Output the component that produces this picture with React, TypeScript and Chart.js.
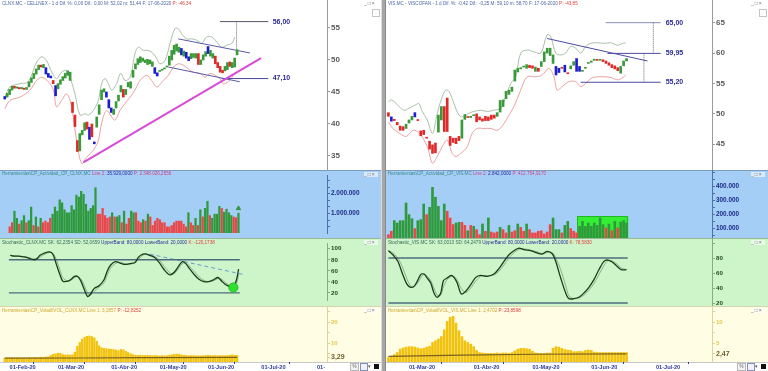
import React, { useEffect, useRef } from "react";
import { Chart, registerables } from "chart.js";

Chart.register(...registerables);
const FONT = "'Liberation Sans', Arial, Helvetica, sans-serif";
Chart.defaults.font.family = FONT;

// ======================= CLNX.MC (left) =======================
// trading-day index 0 = 30-Jan-2020 ... 96 = 17-Jun-2020
const clnxOpen = [
  44.3, 44.2, 44.6, 45.3, 45.9, 45.6, 45.7, 45.5, 45.6, 45.4,
  45.8, 46.5, 47.1, 47.8, 48.5, 49.2, 48.8, 48.8, 47.9, 47.5,
  46.8, 46.0, 45.5, 46.2, 46.8, 47.2, 47.6, 46.8, 43.4, 41.4,
  37.4, 35.8, 38.3, 39.0, 40.3, 39.5, 40.0, 37.2, 39.5, 41.5,
  43.8, 45.0, 45.0, 43.8, 42.5, 41.5, 42.5, 43.6, 45.0, 45.4,
  44.6, 45.8, 45.6, 47.3, 48.6, 49.3, 49.6, 49.8, 49.6, 49.3,
  49.4, 49.0, 48.8, 48.0, 48.2, 48.4, 48.6, 48.9, 49.2, 50.0,
  50.9, 51.4, 51.2, 51.8, 50.6, 51.2, 50.5, 50.2, 50.4, 50.3,
  51.0, 49.3, 50.0, 50.6, 52.1, 50.6, 50.3, 50.6, 49.6, 49.0,
  48.4, 48.3, 48.5, 49.7, 48.8, 48.9, 50.8,
];
const clnxClose = [
  43.9, 44.8, 45.4, 45.9, 45.6, 45.8, 45.5, 45.7, 45.4, 45.7,
  46.6, 47.2, 47.9, 48.6, 49.2, 48.9, 49.3, 47.8, 47.3, 47.2,
  46.3, 44.4, 46.3, 46.9, 47.4, 47.9, 48.3, 48.1, 41.8, 39.6,
  35.7, 38.5, 39.0, 40.2, 39.2, 37.6, 38.0, 36.9, 41.1, 43.0,
  45.3, 45.5, 44.2, 42.5, 41.8, 42.3, 43.5, 44.5, 46.0, 44.2,
  45.4, 46.5, 46.6, 48.4, 49.4, 50.2, 50.5, 50.3, 50.0, 50.1,
  50.0, 49.7, 47.9, 47.5, 48.3, 48.5, 48.7, 49.0, 50.6, 51.5,
  52.3, 52.5, 52.0, 50.8, 51.4, 50.3, 49.9, 51.0, 51.0, 51.0,
  49.3, 50.0, 50.8, 51.3, 51.0, 51.5, 51.0, 49.4, 48.8, 48.1,
  48.0, 49.0, 49.6, 49.0, 49.6, 50.3, 51.6,
];
const clnxBlueDays = [0, 17, 18, 19, 21, 35, 37, 42, 43, 44, 62, 63, 73, 75, 76, 84];
const clnxUpperDays = [0, 2.2, 6.3, 9.7, 13.2, 15.3, 17.3, 19.4, 21.4, 23.5, 25.6, 27, 29, 31.1, 33.2, 34.5, 36.6, 38.7, 40, 41.4, 42.8, 44.2, 46.2, 47.9, 49.7, 51.8, 53.8, 55.2, 57.3, 59.3, 61.4, 62.8, 64.1, 66.2, 68.3, 70.3, 71.7, 73.1, 75.2, 77.2, 79.3, 81.4, 83.4, 85.5, 87.6, 89.6, 91.7, 93.8, 95.1];
const clnxUpperBand = [44.2, 45.8, 46.3, 46.6, 49.7, 50.5, 49.9, 48.1, 47.1, 48.1, 48.4, 47.3, 44.7, 41.4, 41.6, 41.4, 42.1, 43.7, 46.3, 47.1, 46.3, 45.3, 46.3, 47.9, 46.8, 47.3, 51.0, 52.0, 51.5, 51.5, 51.0, 50.2, 49.4, 49.9, 52.6, 54.9, 54.9, 54.1, 53.3, 53.3, 53.1, 52.6, 53.6, 53.6, 52.8, 52.0, 52.3, 52.6, 53.6];
const clnxLowerDays = [0, 2.2, 6.3, 10.4, 13.2, 15.3, 18, 20.1, 21.4, 23.5, 25.6, 27.6, 29.7, 31.8, 33.8, 36.6, 38.7, 40, 42.1, 44.2, 45.6, 47.6, 49.7, 51.8, 53.8, 55.9, 58.6, 60.7, 62.8, 65.5, 67.6, 69.7, 71.7, 73.8, 75.9, 77.9, 80.7, 82.7, 84.8, 86.9, 88.9, 90.3, 92.4, 94.5];
const clnxLowerBand = [42.4, 43.7, 44.2, 45.3, 46.8, 47.3, 46.6, 45.3, 42.7, 43.7, 44.7, 42.7, 37.4, 33.8, 34.8, 35.9, 37.4, 40.1, 42.1, 41.1, 40.6, 42.1, 43.2, 44.2, 45.3, 46.8, 47.6, 46.8, 45.8, 46.8, 47.6, 48.9, 49.4, 49.2, 48.6, 48.1, 47.9, 47.3, 47.9, 47.6, 47.1, 46.3, 46.6, 47.6];
const clnxPriceTicks = [35, 40, 45, 50, 55];
const clnxSupportDays = [32.5, 105.9];
const clnxSupport = [34.0, 50.3];
const clnxChannelTopDays = [71.7, 101.3];
const clnxChannelTop = [53.3, 51.1];
const clnxChannelBotDays = [67.6, 97.1];
const clnxChannelBot = [48.9, 46.6];
const clnxTarget = 56.0;
const clnxTargetDays = [88.9, 108.9];
const clnxStop = 47.1;
const clnxStopDays = [89.6, 108.9];
const clnxTargetLabel = "56,00";
const clnxStopLabel = "47,10";

const clnxVolume = [
  330000, 540000, 1120000, 760000, 470000, 640000, 900000, 540000,
  640000, 1330000, 400000, 830000, 330000, 760000, 540000, 620000, 540000, 760000, 970000, 1330000, 1120000, 1690000, 1540000, 1190000, 1040000, 1040000,
  1400000, 1190000, 1930000, 1830000, 2120000, 1970000, 1470000, 1120000, 1260000, 1400000, 2300000, 970000, 970000, 1260000, 900000, 760000, 830000, 1040000, 830000, 830000, 900000, 540000, 1120000, 470000, 760000, 1120000, 1040000, 1040000, 620000,
  540000, 690000, 620000, 970000, 830000, 400000, 620000, 760000, 690000, 540000, 540000, 330000, 330000, 400000, 540000, 620000, 620000, 620000,
  470000, 330000, 1040000, 540000, 400000, 760000, 400000, 1190000, 830000, 1260000, 1620000, 900000, 760000, 970000, 970000, 1360000, 1260000, 1070000, 1220000, 1040000, 900000, 830000, 790000, 1020000,
];
const clnxVolumeUp = [
  0, 0, 1, 1, 0, 1, 1, 0,
  1, 1, 0, 1, 0, 1, 0, 0, 0, 0, 1, 1, 1, 1, 1, 1, 1, 1,
  1, 1, 1, 1, 1, 1, 1, 1, 1, 1, 1, 0, 0, 0, 0, 0, 0, 1, 0, 1, 1, 0, 1, 0, 0, 1, 1, 0, 0,
  0, 1, 0, 1, 0, 0, 0, 0, 0, 0, 0, 0, 0, 0, 0, 0, 0, 0,
  0, 0, 1, 0, 0, 1, 0, 1, 0, 1, 1, 0, 1, 1, 1, 1, 0, 1, 1, 1, 1, 0, 0, 1,
];
const clnxVolumeTicks = [333333, 666667, 1000000, 1333333, 1666667, 2000000, 2333333, 2666667];
const clnxVolumeLabels = ["", "", "1.000.000", "", "", "2.000.000", "", ""];
const clnxVolumeSignal = 1260000;

const clnxStochDays = [0, 1.5, 3.5, 5.6, 7.7, 9.7, 11.1, 12.5, 14.6, 16.6, 18, 19.4, 20.8, 22.1, 24.2, 25.6, 27, 28.3, 29.7, 31.1, 32.5, 33.6, 35.2, 37.3, 39.4, 40.7, 42.1, 44.2, 46.2, 48.3, 50.4, 52.4, 53.8, 55.2, 56.6, 58.6, 60.7, 62.8, 64.8, 66.9, 68.3, 69.7, 71, 72.4, 73.8, 75.2, 77.2, 79.3, 81.4, 83.4, 85.5, 87.3, 88.9, 90.6, 92.4, 93.8, 95.1, 96];
const clnxStochK = [88.2, 86.7, 86.7, 85.2, 83.2, 80.2, 81.7, 88.2, 92.7, 94.2, 89.2, 71.5, 53.9, 41.3, 41.3, 44.8, 49.9, 49.9, 41.3, 26.2, 13.6, 17.1, 27.7, 32.8, 43.9, 59, 70.1, 76.7, 74.1, 71.6, 73.1, 75.1, 84.2, 89.2, 90.8, 88.2, 84.2, 74.1, 61.5, 52.9, 54.9, 61.5, 70.1, 76.7, 73.1, 65, 53.9, 44.8, 40.3, 40.3, 43.9, 47.9, 41.3, 34.8, 31.3, 29.7, 43.9, 63];
const clnxStochTrendDays = [58.6, 98.6];
const clnxStochTrend = [90.3, 52.9];
const clnxStochSignalDay = 93.8;
const clnxStochSignal = 29.7;
const clnxStochLabels = ["20", "40", "60", "80", "100"];

const clnxVolat = [
  3.0, 3.1, 3.0, 3.1, 3.0, 3.1, 3.1, 3.0, 3.1, 3.1,
  3.2, 3.1, 3.2, 3.2, 3.3, 3.4, 3.3, 3.5, 3.6, 4.2,
  4.8, 5.0, 5.3, 5.2, 4.6, 4.4, 4.5, 4.4, 4.6, 5.8,
  8.6, 10.4, 12.0, 12.9, 13.3, 13.5, 13.2, 12.6, 11.0, 8.8,
  7.9, 7.6, 7.4, 7.3, 7.2, 7.0, 6.8, 6.5, 7.1, 6.9,
  6.2, 5.6, 5.0, 4.6, 4.3, 4.2, 4.3, 4.2, 4.2, 4.3,
  4.2, 4.1, 4.2, 4.1, 4.0, 4.1, 4.0, 4.1, 4.3, 4.5,
  4.7, 4.9, 4.7, 4.5, 4.3, 4.2, 4.1, 4.1, 4.2, 4.0,
  4.1, 4.0, 4.1, 4.2, 4.3, 4.2, 4.1, 4.2, 4.1, 4.1,
  4.2, 4.1, 4.2, 4.3, 4.5, 4.3, 4.2,
];
const clnxVolatAvgDays = [0, 30, 60, 96];
const clnxVolatAvg = [2.9, 3.0, 3.15, 3.29];
const clnxVolatTicks = [3.29, 5, 10, 15, 20, 25];
const clnxVolatLabels = ["3,29", "", "10", "", "20", ""];
const clnxDateDays = [2, 22, 44, 64, 84, 106, 129];
const clnxDateLabels = ["01-Feb-20", "01-Mar-20", "01-Abr-20", "01-May-20", "01-Jun-20", "01-Jul-20", "01-"];

// ======================= VIS.MC (right) =======================
// trading-day index 0 = 20-Feb-2020 ... 81 = 17-Jun-2020
const visOpen = [
  50.2, 49.5, 49.1, 48.6, 48.0, 47.9, 47.6, 48.5, 49.0, 50.2,
  49.0, 47.2, 47.3, 46.1, 45.5, 44.9, 45.2, 47.0, 49.0, 51.2,
  52.6, 46.3, 46.0, 46.0, 46.3, 46.0, 49.1, 49.5, 49.4, 49.7,
  50.0, 49.5, 49.2, 49.6, 49.5, 49.8, 49.8, 49.6, 50.3, 51.2,
  52.5, 53.2, 53.7, 55.4, 56.9, 57.4, 57.7, 57.5, 58.0, 57.9,
  57.0, 57.5, 57.8, 58.6, 60.0, 59.6, 58.3, 57.8, 57.5, 57.6,
  58.0, 56.7, 57.4, 58.0, 59.1, 57.8, 57.0, 57.5, 58.3, 58.5,
  58.8, 58.9, 58.8, 58.9, 58.7, 58.4, 58.1, 57.9, 57.6, 56.7,
  57.9, 58.7,
];
const visClose = [
  49.6, 48.8, 48.9, 48.2, 47.3, 47.3, 48.3, 49.0, 49.6, 49.5,
  48.9, 46.4, 46.6, 46.0, 44.2, 43.5, 43.6, 49.8, 51.2, 47.1,
  47.1, 44.8, 45.3, 45.1, 45.6, 49.0, 49.9, 49.4, 49.6, 49.8,
  48.7, 49.0, 48.8, 48.9, 48.9, 49.1, 49.3, 50.2, 52.2, 52.3,
  53.7, 53.9, 54.4, 57.2, 57.5, 57.6, 57.8, 58.1, 57.6, 57.5,
  57.7, 57.0, 58.6, 60.2, 60.8, 60.8, 59.7, 56.4, 56.8, 57.5,
  56.9, 56.6, 57.9, 58.6, 57.0, 57.0, 57.1, 57.6, 58.4, 58.7,
  59.0, 58.8, 58.9, 58.6, 58.3, 58.0, 57.6, 57.4, 57.1, 57.8,
  58.7, 59.1,
];
const visBlueDays = [1, 9, 57, 58, 60, 64, 65];
const visUpperDays = [0, 1.2, 3.6, 5.3, 7, 9.3, 10.4, 11.5, 13.2, 15, 16.6, 18.3, 19.5, 20.6, 22.3, 24, 25.7, 27.4, 29.1, 31.4, 33.6, 35.9, 38.2, 39.9, 41.6, 43.3, 45, 47.2, 49.5, 51.8, 54, 55.2, 56.9, 58.6, 60.3, 62, 63.7, 65.4, 67.1, 68.8, 71.1, 73.3, 75.6, 77.9, 79.6, 80.7];
const visUpperBand = [52.0, 52.3, 51.2, 50.6, 50.9, 51.5, 51.7, 50.4, 49.0, 46.8, 50.1, 52.8, 53.9, 53.7, 51.7, 49.8, 49.5, 50.1, 50.4, 50.6, 50.4, 50.6, 50.9, 52.8, 55.0, 56.1, 60.0, 60.5, 60.2, 60.0, 63.0, 62.7, 60.0, 59.7, 60.0, 61.1, 60.8, 60.0, 61.1, 61.6, 61.7, 61.6, 61.7, 61.3, 61.6, 61.7];
const visLowerDays = [0, 1.5, 3.8, 6.1, 8.4, 10.6, 13.2, 15, 16.6, 18.3, 20, 21.7, 22.9, 24.6, 26.8, 28.5, 30.2, 32.5, 34.8, 37.1, 39.3, 41, 42.7, 45, 47.2, 50.1, 52.3, 54.6, 56.3, 57.4, 59.1, 61.4, 63.7, 65.4, 67.1, 68.8, 71.1, 73.3, 75.6, 77.9, 79.2, 80.7];
const visLowerBand = [48.7, 47.6, 46.8, 46.3, 47.3, 46.8, 44.6, 41.9, 43.0, 44.6, 45.7, 43.5, 43.0, 43.5, 44.6, 46.8, 47.6, 47.6, 47.6, 47.3, 48.4, 49.8, 51.2, 53.9, 56.1, 56.1, 56.4, 57.5, 56.1, 53.9, 54.5, 55.3, 55.3, 54.5, 55.0, 55.8, 56.1, 56.1, 56.0, 55.6, 55.8, 56.4];
const visPriceTicks = [45, 50, 55, 60, 65];
const visTrendDays = [54, 88.1];
const visTrend = [62.4, 58.7];
const visTarget = 65.0;
const visTargetDays = [73.9, 92.6];
const visResistance = 59.95;
const visResistanceDays = [74.5, 92.6];
const visSupport = 55.2;
const visSupportDays = [65.4, 92.6];
const visMeasureDays = [90.1, 86.9];
const visLevelLabels = ["65,00", "59,95", "55,20"];

const visVolume = [
  54000, 78000, 154000, 137000, 154000, 154000, 280000, 197000, 168000, 97000,
  154000, 161000, 273000, 197000, 249000, 392000, 321000, 256000, 154000, 273000,
  221000, 173000, 126000, 137000, 142000, 142000, 120000, 82000, 120000, 113000,
  90000, 54000, 130000, 78000, 173000, 73000, 66000, 73000, 106000, 90000,
  66000, 120000, 73000, 82000, 130000, 106000, 78000, 130000, 90000, 66000,
  66000, 78000, 82000, 59000, 73000, 125000, 173000, 90000, 90000, 66000,
  120000, 149000, 97000, 78000, 66000, 113000, 149000, 113000, 137000, 113000,
  137000, 120000, 173000, 125000, 102000, 130000, 82000, 149000, 102000, 144000,
  154000, 137000,
];
const visVolumeUp = [
  0, 0, 1, 1, 1, 1, 1, 1, 1, 0, 1, 1, 1, 0, 1, 1, 1, 1, 1, 1,
  0, 0, 0, 1, 1, 0, 0, 1, 0, 1, 0, 0, 1, 0, 1, 0, 0, 0, 1, 0,
  0, 1, 0, 0, 1, 0, 0, 1, 0, 0, 0, 0, 0, 0, 0, 0, 1, 1, 1, 0,
  1, 1, 0, 0, 0, 1, 1, 1, 1, 1, 1, 1, 1, 1, 0, 1, 0, 1, 0, 1,
  1, 1,
];
const visVolumeTicks = [50000, 100000, 150000, 200000, 250000, 300000, 350000, 400000, 450000, 500000];
const visVolumeLabels = ["", "100.000", "", "200.000", "", "300.000", "", "400.000", "", ""];
const visHighlightDays = [64.3, 81.6];
const visHighlightTop = 185000;

const visStochDays = [0, 1.5, 3.2, 4.9, 6.4, 7.6, 8.7, 9.8, 11, 12.1, 13.2, 14.4, 15.5, 16.6, 17.8, 18.7, 20, 21.3, 22.3, 23.4, 24.8, 26.3, 28, 29.7, 31.4, 33.6, 35.9, 37.6, 39.3, 41, 42.7, 44.4, 46.1, 48.4, 50.6, 52.3, 54, 55.8, 56.9, 58.6, 60.3, 61.4, 63.1, 64.8, 66.5, 68.2, 69.9, 71.6, 73.3, 74.6, 76.1, 77.8, 79.2, 81];
const visStochK = [89.8, 84.4, 75.6, 57.8, 44.4, 40.9, 42.2, 48.9, 57.8, 58.7, 53.3, 46.7, 33.3, 27.6, 33.3, 49.8, 53.3, 56.9, 54.2, 46.7, 32, 35.6, 44.4, 54.2, 56.9, 55.6, 58.7, 65.8, 75.6, 84.4, 89.8, 93.3, 91.1, 89.8, 86.7, 85.3, 88.9, 85.3, 75.6, 53.3, 33.3, 25.8, 25.8, 27.6, 33.3, 40.9, 51.1, 64.4, 75.6, 77.3, 74.7, 68.9, 64.4, 64.4];
const visStochLabels = ["20", "40", "60", "80", ""];

const visVolat = [
  1.6, 1.9, 2.3, 2.8, 3.6, 3.9, 4.1, 4.2, 4.2, 4.1,
  3.9, 3.7, 3.8, 4.1, 4.3, 5.2, 5.6, 6.0, 6.6, 8.2,
  10.2, 11.2, 11.4, 9.8, 8.0, 6.6, 5.6, 5.2, 4.8, 4.2,
  3.3, 2.8, 2.7, 2.6, 2.6, 2.6, 2.6, 2.7, 2.6, 2.7,
  2.7, 2.6, 2.8, 3.2, 3.6, 3.8, 3.8, 3.7, 3.6, 3.1,
  2.7, 2.6, 2.6, 2.6, 2.7, 2.7, 3.8, 4.2, 4.1, 3.8,
  3.5, 3.4, 3.3, 3.0, 3.0, 3.1, 3.0, 3.3, 3.4, 3.3,
  2.9, 2.8, 2.8, 2.8, 2.8, 2.8, 2.8, 2.8, 2.8, 2.8,
  2.8, 2.8,
];
const visVolatAvgDays = [0, 25, 50, 81];
const visVolatAvg = [1.9, 2.2, 2.4, 2.47];
const visVolatTicks = [2.47, 5, 7.5, 10, 12.5];
const visVolatLabels = ["2,47", "5", "", "10", ""];
const visDateDays = [7, 29, 49, 69, 91];
const visDateLabels = ["01-Mar-20", "01-Abr-20", "01-May-20", "01-Jun-20", "01-Jul-20"];

const stochTicks = [20, 40, 60, 80, 100];
const stochBands = [80, 20];

// ======================= helpers =======================
const GREEN = "#3a9a3a";
const RED = "#e02a2a";
const BLUE = "#1c1cd2";
const VOL_G = "#2e9a3c";
const VOL_R = "#ea4848";

const pts = (xs: number[], ys: number[]) => xs.map((x, i) => ({ x, y: ys[i] }));
const seq = (ys: number[]) => ys.map((y, i) => ({ x: i, y }));

const baseOpts = () => ({
  responsive: false,
  maintainAspectRatio: false,
  animation: false,
  devicePixelRatio: 1,
  events: [],
  layout: { padding: 0 },
  plugins: { legend: { display: false }, tooltip: { enabled: false }, title: { display: false } },
});

function yAxis(o: any) {
  return {
    type: "linear",
    position: "right",
    min: o.min,
    max: o.max,
    afterBuildTicks: (s: any) => {
      s.ticks = o.ticks.map((v: number) => ({ value: v }));
    },
    afterFit: (s: any) => {
      s.width = o.width;
      s.paddingTop = 0;
      s.paddingBottom = 0;
    },
    ticks: {
      autoSkip: false,
      padding: 1,
      color: o.color,
      font: o.font,
      callback: (v: number, i: number) => (o.labels ? o.labels[i] : String(v)),
    },
    grid: { drawOnChartArea: false, drawTicks: true, tickLength: 3, color: o.line },
    border: { display: true, color: o.line, width: 1 },
  };
}

const xHidden = (min: number, max: number) => ({ type: "linear", min, max, display: false, offset: false });

function xDates(min: number, max: number, days: number[], labels: string[]) {
  return {
    type: "linear",
    min,
    max,
    offset: false,
    position: "bottom",
    afterBuildTicks: (s: any) => {
      s.ticks = days.map((v) => ({ value: v }));
    },
    afterFit: (s: any) => {
      s.height = 9;
      s.paddingLeft = 0;
      s.paddingRight = 0;
    },
    ticks: {
      autoSkip: false,
      maxRotation: 0,
      minRotation: 0,
      align: "start",
      padding: 0,
      color: "#2b3a9c",
      font: { size: 5.6, weight: "bold" },
      callback: (_v: number, i: number) => labels[i],
    },
    grid: { drawOnChartArea: false, drawTicks: true, tickLength: 2, color: "#2b3a9c" },
    border: { display: false },
  };
}

const line = (xs: number[], ys: number[], color: string, width: number, dash: number[] = [], order = 2, tension = 0) => ({
  type: "line",
  data: pts(xs, ys),
  borderColor: color,
  borderWidth: width,
  borderDash: dash,
  pointRadius: 0,
  fill: false,
  tension,
  order,
});

function textPlugin(texts: any[]) {
  return {
    id: "texts",
    afterDatasetsDraw(chart: any) {
      const { ctx } = chart;
      const xs = chart.scales.x;
      const ys = chart.scales.y;
      ctx.save();
      for (const t of texts) {
        ctx.font = t.font;
        ctx.fillStyle = t.color;
        ctx.textAlign = "left";
        ctx.textBaseline = "middle";
        ctx.fillText(t.text, xs.getPixelForValue(t.x), ys.getPixelForValue(t.y));
      }
      ctx.restore();
    },
  };
}

function boxPlugin(x0: number, x1: number, top: number) {
  return {
    id: "hbox",
    beforeDatasetsDraw(chart: any) {
      const { ctx, chartArea } = chart;
      const l = chart.scales.x.getPixelForValue(x0);
      const r = chart.scales.x.getPixelForValue(x1);
      const t = chart.scales.y.getPixelForValue(top);
      ctx.save();
      ctx.fillStyle = "#34ee34";
      ctx.fillRect(l, t, r - l, chartArea.bottom - t);
      ctx.strokeStyle = "#22b822";
      ctx.lineWidth = 1;
      ctx.strokeRect(Math.round(l) + 0.5, Math.round(t) + 0.5, r - l - 1, chartArea.bottom - t);
      ctx.restore();
    },
  };
}

// ======================= chart builders =======================
function priceConfig(s: any) {
  const colors = s.open.map((o: number, i: number) =>
    s.blue.includes(i) ? BLUE : s.close[i] >= o ? GREEN : RED
  );
  return {
    type: "bar",
    data: {
      datasets: [
        {
          type: "bar",
          data: s.open.map((o: number, i: number) => ({ x: i, y: [o, s.close[i]] })),
          backgroundColor: colors,
          barThickness: 2,
          minBarLength: 1,
          grouped: false,
          borderWidth: 0,
          order: 0,
        },
        line(s.upD, s.up, "#94b094", 0.8, [], 3, 0.35),
        line(s.loD, s.lo, "#e48a8a", 0.8, [], 3, 0.35),
        ...s.lines,
      ],
    },
    options: {
      ...baseOpts(),
      scales: {
        x: xHidden(s.xMin, s.xMax),
        y: yAxis({ min: s.yMin, max: s.yMax, width: s.axisW, ticks: s.ticks, color: "#5c5c5c", font: { size: 8, weight: "bold" }, line: "#9a9a9a" }),
      },
    },
    plugins: [textPlugin(s.texts)],
  };
}

function volumeConfig(s: any) {
  const ds: any[] = [
    {
      type: "bar",
      data: seq(s.vol),
      backgroundColor: s.up.map((u: number) => (u ? VOL_G : VOL_R)),
      barThickness: s.barW,
      grouped: false,
      borderWidth: 0,
      order: 1,
    },
  ];
  if (s.signal) {
    ds.push({
      type: "line",
      data: [{ x: s.vol.length - 1, y: s.signal }],
      showLine: false,
      pointStyle: "triangle",
      pointRadius: 2.5,
      pointBackgroundColor: "#2e9a3c",
      pointBorderColor: "#2e9a3c",
      order: 0,
    });
  }
  return {
    type: "bar",
    data: { datasets: ds },
    options: {
      ...baseOpts(),
      scales: {
        x: xHidden(s.xMin, s.xMax),
        y: yAxis({ min: s.yMin, max: s.yMax, width: s.axisW, ticks: s.ticks, labels: s.labels, color: "#1b2a86", font: { size: 6.4, weight: "bold" }, line: "#4f6fa8" }),
      },
    },
    plugins: s.box ? [boxPlugin(s.box[0], s.box[1], s.box[2])] : [],
  };
}

function stochConfig(s: any) {
  const kd = s.k.map((v: number, i: number) => (i === 0 ? v : (v + s.k[i - 1]) / 2));
  const ds: any[] = [
    line(s.days, kd, "#7d9d7d", 0.8, [], 3, 0.3),
    line(s.days, s.k, "#1b3b1b", 1.3, [], 1, 0.3),
    line([s.bandFrom, s.bandTo], [stochBands[0], stochBands[0]], "#4c6c7c", 1.4, [], 2),
    line([s.bandFrom, s.bandTo], [stochBands[1], stochBands[1]], "#4c6c7c", 1.4, [], 2),
  ];
  if (s.trend) ds.push(line(s.trend[0], s.trend[1], "#6a9ad8", 1, [4, 3], 2));
  if (s.signal) {
    ds.push({
      type: "line",
      data: [{ x: s.signal[0], y: s.signal[1] }],
      showLine: false,
      pointRadius: 4.6,
      pointBackgroundColor: "#30e030",
      pointBorderColor: "#22b822",
      pointBorderWidth: 1,
      order: 0,
    });
  }
  return {
    type: "line",
    data: { datasets: ds },
    options: {
      ...baseOpts(),
      scales: {
        x: xHidden(s.xMin, s.xMax),
        y: yAxis({ min: s.yMin, max: s.yMax, width: s.axisW, ticks: stochTicks, labels: s.labels, color: "#1c4a1c", font: { size: 6.2, weight: "bold" }, line: "#8aa88a" }),
      },
    },
  };
}

function volatConfig(s: any) {
  return {
    type: "bar",
    data: {
      datasets: [
        {
          type: "bar",
          data: seq(s.vol),
          backgroundColor: "#f1c20e",
          barThickness: s.barW,
          grouped: false,
          borderWidth: 0,
          order: 1,
        },
        line(s.avgD, s.avg, "#7a6222", 1.2, [], 0),
      ],
    },
    options: {
      ...baseOpts(),
      scales: {
        x: xDates(s.xMin, s.xMax, s.dateDays, s.dateLabels),
        y: yAxis({
          min: s.yMin,
          max: s.yMax,
          width: s.axisW,
          ticks: s.ticks,
          labels: s.labels,
          color: (c: any) => (c.index === 0 ? "#6e5e2c" : "#e4c850"),
          font: (c: any) => (c.index === 0 ? { size: 7, weight: "bold" } : { size: 6, weight: "bold" }),
          line: "#dcd4a0",
        }),
      },
    },
  };
}

// ======================= components =======================
function ChartBox({ left, top, width, height, make }: any) {
  const ref = useRef<HTMLCanvasElement | null>(null);
  useEffect(() => {
    if (!ref.current) return;
    const chart = new Chart(ref.current, make() as any);
    return () => chart.destroy();
  }, []);
  return (
    <canvas
      ref={ref}
      width={width}
      height={height}
      style={{ position: "absolute", left, top, width, height, display: "block" }}
    />
  );
}

function Header({ top, parts }: any) {
  return (
    <div
      style={{
        position: "absolute",
        left: 2,
        top,
        whiteSpace: "nowrap",
        fontSize: 4.6,
        lineHeight: "6px",
        fontFamily: FONT,
      }}
    >
      {parts.map((p: any, i: number) => (
        <span key={i} style={{ color: p[1] }}>
          {p[0]}
        </span>
      ))}
    </div>
  );
}

function WinButtons({ top, right }: any) {
  return (
    <div
      style={{
        position: "absolute",
        top,
        left: right - 17,
        width: 14,
        height: 5,
        fontSize: 5,
        lineHeight: "5px",
        color: "#707070",
        fontFamily: FONT,
        letterSpacing: 1,
        background: "rgba(255,255,255,0.6)",
      }}
    >
      _□×
    </div>
  );
}

function Column({ left, s }: any) {
  const w = s.width;
  const panel = (top: number, height: number, bg: string, border: string) => (
    <div
      style={{
        position: "absolute",
        left: 0,
        top,
        width: w,
        height,
        background: bg,
        borderTop: `1px solid ${border}`,
        boxSizing: "border-box",
      }}
    />
  );
  return (
    <div style={{ position: "absolute", left, top: 0, width: w, height: 371, overflow: "hidden" }}>
      {panel(0, 170, "#ffffff", "#ffffff")}
      {panel(170, 68, "#a5cef7", "#7c9cc6")}
      {panel(238, 68, "#cdf5c9", "#98b898")}
      {panel(306, 56, "#fffde3", "#d8d2ae")}
      {panel(362, 9, "#ffffff", "#c8c8c8")}
      <ChartBox left={0} top={0} width={w} height={170} make={() => priceConfig(s.price)} />
      <ChartBox left={0} top={170} width={w} height={68} make={() => volumeConfig(s.volume)} />
      <ChartBox left={0} top={238} width={w} height={68} make={() => stochConfig(s.stoch)} />
      <ChartBox left={0} top={306} width={w} height={65} make={() => volatConfig(s.volat)} />
      <Header top={0.5} parts={s.headers[0]} />
      <Header top={171} parts={s.headers[1]} />
      <Header top={239.5} parts={s.headers[2]} />
      <Header top={307.5} parts={s.headers[3]} />
      <WinButtons top={1} right={w} />
      <WinButtons top={172} right={w} />
      <WinButtons top={240} right={w} />
      <WinButtons top={308} right={w} />
      <div style={{ position: "absolute", left: w - 9, top: 9, width: 6, height: 6, border: "1px solid #c4c4c4", background: "#fff" }} />
      <div style={{ position: "absolute", left: w - 31, top: 363, width: 7, height: 6, border: "1px solid #b8b8b8", background: "#f2f2f2", fontSize: 4.5, lineHeight: "6px", textAlign: "center", color: "#666" }}>%</div>
      <div style={{ position: "absolute", left: w - 21, top: 363, width: 6, height: 6, border: "1px solid #8090c0", background: "#f2f2f2" }} />
      <div style={{ position: "absolute", left: w - 13, top: 364, width: 4, height: 4, fontSize: 5, lineHeight: "4px", color: "#555" }}>▾</div>
      <div style={{ position: "absolute", left: w - 7, top: 364, width: 5, height: 5, background: "#111" }} />
    </div>
  );
}

// ======================= specs =======================
const LBL_FONT = `bold 7px ${FONT}`;
const LBL_COLOR = "#2b2b98";

const leftSpec = {
  width: 381,
  price: {
    open: clnxOpen, close: clnxClose, blue: clnxBlueDays,
    upD: clnxUpperDays, up: clnxUpperBand, loD: clnxLowerDays, lo: clnxLowerBand,
    xMin: -1.97, xMax: 133.16, yMin: 32.81, yMax: 59.375, axisW: 54, ticks: clnxPriceTicks,
    lines: [
      line(clnxSupportDays, clnxSupport, "#d84bd8", 2, [], 2),
      line(clnxChannelTopDays, clnxChannelTop, "#5a5aa8", 1, [], 2),
      line(clnxChannelBotDays, clnxChannelBot, "#5a5aa8", 1, [], 2),
      line(clnxTargetDays, [clnxTarget, clnxTarget], "#56566a", 1, [], 2),
      line(clnxStopDays, [clnxStop, clnxStop], "#4a4a9c", 1, [], 2),
      line([95.8, 95.8], [clnxTarget, 51.6], "#6a6a6a", 1, [1, 1], 2),
    ],
    texts: [
      { x: 110.7, y: clnxTarget, text: clnxTargetLabel, color: LBL_COLOR, font: LBL_FONT },
      { x: 110.7, y: clnxStop, text: clnxStopLabel, color: LBL_COLOR, font: LBL_FONT },
    ],
  },
  volume: {
    vol: clnxVolume, up: clnxVolumeUp, barW: 1.6, signal: clnxVolumeSignal,
    xMin: -1.97, xMax: 133.16, yMin: 21000, yMax: 2940000, axisW: 54,
    ticks: clnxVolumeTicks, labels: clnxVolumeLabels,
  },
  stoch: {
    days: clnxStochDays, k: clnxStochK, bandFrom: -0.6, bandTo: 96.5, labels: clnxStochLabels,
    trend: [clnxStochTrendDays, clnxStochTrend], signal: [clnxStochSignalDay, clnxStochSignal],
    xMin: -1.97, xMax: 133.16, yMin: 6.4, yMax: 109.4, axisW: 54,
  },
  volat: {
    vol: clnxVolat, barW: 1.6, avgD: clnxVolatAvgDays, avg: clnxVolatAvg,
    xMin: -1.97, xMax: 133.16, yMin: 1.1, yMax: 27.76, axisW: 54,
    ticks: clnxVolatTicks, labels: clnxVolatLabels, dateDays: clnxDateDays, dateLabels: clnxDateLabels,
  },
  headers: [
    [["CLNX.MC - CELLNEX - 1 d  Dif. %: 0,00  Dif.: 0,00  M: 52,02  m: 51,44  F: 17-06-2020  ", "#4a68a6"], ["P: -46,34", "#e03a3a"]],
    [["Herramientas\\CP_Actividad_CP_CLNX.MC  ", "#3a8a8a"], ["Line 2: ", "#d04080"], ["35.929,0000  ", "#2a2a9a"], ["P: 2.348.026,2656", "#d04080"]],
    [["Stochastic_CLNX.MC  SK: 62,2354  SD: 52,0659  ", "#3a6a5a"], ["UpperBand: 80,0000  LowerBand: 20,0000  ", "#2a2a9a"], ["K: -120,1738", "#e04040"]],
    [["Herramientas\\CP_Volatil\\VOL_CLNX.MC  Line 1: 3,2857  ", "#c8aa30"], ["P: -12,8252", "#e04040"]],
  ],
};

const rightSpec = {
  width: 382,
  price: {
    open: visOpen, close: visClose, blue: visBlueDays,
    upD: visUpperDays, up: visUpperBand, loD: visLowerDays, lo: visLowerBand,
    xMin: -0.82, xMax: 110.06, yMin: 40.77, yMax: 68.73, axisW: 56, ticks: visPriceTicks,
    lines: [
      line(visTrendDays, visTrend, "#4a4aa2", 1, [], 2),
      line(visTargetDays, [visTarget, visTarget], "#8c8cb4", 1, [], 2),
      line(visResistanceDays, [visResistance, visResistance], "#4a4aa2", 1, [], 2),
      line(visSupportDays, [visSupport, visSupport], "#4a4aa2", 1, [], 2),
      line([visMeasureDays[0], visMeasureDays[0]], [visTarget, visResistance], "#6a6a7a", 1, [1, 1], 2),
      line([visMeasureDays[1], visMeasureDays[1]], [visResistance, visSupport], "#6a6a7a", 1, [1, 1], 2),
    ],
    texts: [
      { x: 94.3, y: visTarget, text: visLevelLabels[0], color: LBL_COLOR, font: LBL_FONT },
      { x: 94.3, y: visResistance, text: visLevelLabels[1], color: LBL_COLOR, font: LBL_FONT },
      { x: 94.3, y: visSupport, text: visLevelLabels[2], color: LBL_COLOR, font: LBL_FONT },
    ],
  },
  volume: {
    vol: visVolume, up: visVolumeUp, barW: 2,
    box: [visHighlightDays[0], visHighlightDays[1], visHighlightTop],
    xMin: -0.82, xMax: 110.06, yMin: 30000, yMax: 515700, axisW: 56,
    ticks: visVolumeTicks, labels: visVolumeLabels,
  },
  stoch: {
    days: visStochDays, k: visStochK, bandFrom: 0, bandTo: 81.4, labels: visStochLabels,
    xMin: -0.82, xMax: 110.06, yMin: 16, yMax: 106.7, axisW: 56,
  },
  volat: {
    vol: visVolat, barW: 2, avgD: visVolatAvgDays, avg: visVolatAvg,
    xMin: -0.82, xMax: 110.06, yMin: 0.55, yMax: 13.88, axisW: 56,
    ticks: visVolatTicks, labels: visVolatLabels, dateDays: visDateDays, dateLabels: visDateLabels,
  },
  headers: [
    [["VIS.MC - VISCOFAN - 1 d  Dif. %: -0,42  Dif.: -0,25  M: 59,10  m: 58,70  F: 17-06-2020  ", "#4a68a6"], ["P: -43,85", "#e03a3a"]],
    [["Herramientas\\CP_Actividad_CP_VIS.MC  ", "#3a8a8a"], ["Line 2: ", "#d04080"], ["2.842,0000  ", "#2a2a9a"], ["P: 412.754,9170", "#d04080"]],
    [["Stochastic_VIS.MC  SK: 63,0013  SD: 64,2479  ", "#3a6a5a"], ["UpperBand: 80,0000  LowerBand: 20,0000  ", "#2a2a9a"], ["K: 78,5830", "#e04040"]],
    [["Herramientas\\CP_Volatil\\VOL_VIS.MC  Line 1: 2,4702  ", "#c8aa30"], ["P: 23,8598", "#e04040"]],
  ],
};

export default function App() {
  return (
    <div
      style={{
        position: "fixed",
        left: 0,
        top: 0,
        width: 768,
        height: 371,
        overflow: "hidden",
        background: "#ffffff",
        fontFamily: FONT,
      }}
    >
      <Column left={0} s={leftSpec} />
      <div
        style={{
          position: "absolute",
          left: 381,
          top: 0,
          width: 5,
          height: 371,
          background: "#a6a6a6",
          borderLeft: "1px solid #dcdcdc",
          borderRight: "1px solid #8a8a8a",
          boxSizing: "border-box",
        }}
      />
      <Column left={386} s={rightSpec} />
    </div>
  );
}
